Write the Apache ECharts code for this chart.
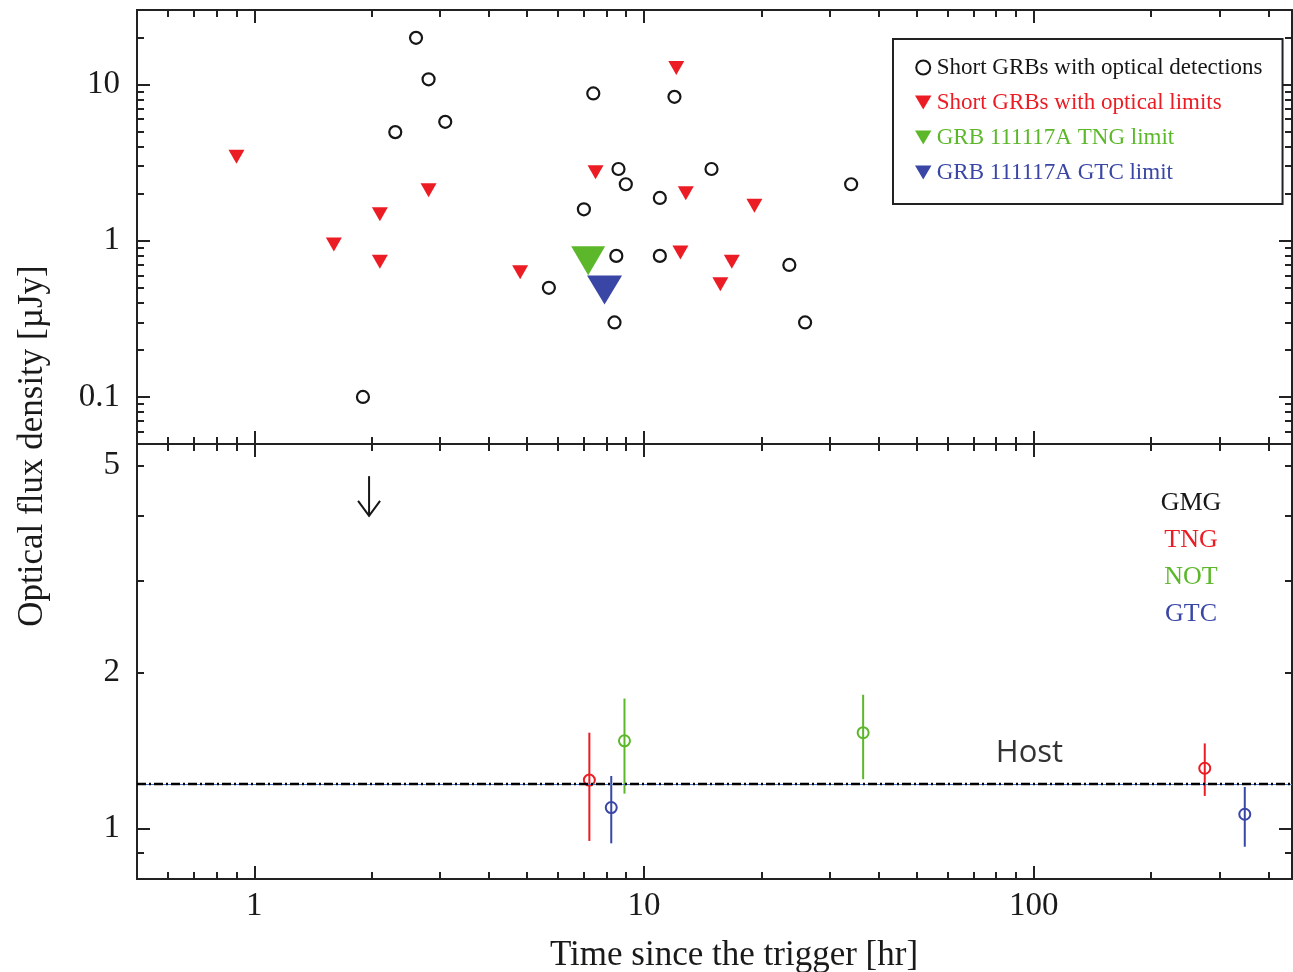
<!DOCTYPE html>
<html>
<head>
<meta charset="utf-8">
<script src="https://cdn.jsdelivr.net/npm/echarts@6/dist/echarts.min.js"></script>
<style>
  html, body { margin: 0; padding: 0; background: #ffffff; }
  #chart { width: 1293px; height: 972px; }
</style>
</head>
<body>
<div id="chart"></div>
<script>
// ---- Short GRB optical afterglows: time since trigger [hr], flux density [µJy] ----
const detTime = [2.60, 2.80, 3.09, 2.30, 1.90, 7.41, 11.97, 8.60, 8.98, 14.9, 34.0, 10.98, 7.01, 8.49, 10.98, 23.6, 5.70, 8.40, 25.9];
const detFlux = [19.9, 10.8, 5.77, 4.96, 0.10, 8.77, 8.34, 2.88, 2.30, 2.88, 2.30, 1.88, 1.59, 0.80, 0.80, 0.70, 0.50, 0.30, 0.30];

const limTime = [0.90, 2.80, 2.10, 1.60, 2.10, 4.81, 12.1, 7.51, 12.8, 19.2, 12.4, 16.8, 15.7];
const limFlux = [3.57, 2.18, 1.53, 0.98, 0.76, 0.65, 13.2, 2.84, 2.08, 1.73, 0.87, 0.76, 0.545];

// GRB 111117A upper limits [time, flux]
const tngLimit = [7.19, 0.80];
const gtcLimit = [7.92, 0.52];

// ---- GRB 111117A host photometry: [time, flux, lower, upper] ----
const tngHost = [[7.24, 1.24, 0.947, 1.53], [274.7, 1.307, 1.156, 1.459]];
const notHost = [[8.91, 1.476, 1.168, 1.78], [36.5, 1.53, 1.245, 1.81]];
const gtcHost = [[8.24, 1.098, 0.937, 1.263], [348, 1.066, 0.923, 1.203]];
// GMG upper limit: [time, flux, arrow tip]
const gmgLimit = [[1.97, 4.77, 4.0]];
const hostLevel = 1.22;
const hostLabelPos = [97.5, 1.40];

// ---- axis ticks ----
const xMajor = [1, 10, 100];
const xMinor = [0.6, 0.7, 0.8, 0.9, 2, 3, 4, 5, 6, 7, 8, 9, 20, 30, 40, 50, 60, 70, 80, 90, 200, 300, 400];
const xLabels = [1, 10, 100];
const topMajor = [0.1, 1, 10];
const topMinor = [0.06, 0.07, 0.08, 0.09, 0.2, 0.3, 0.4, 0.5, 0.6, 0.7, 0.8, 0.9, 2, 3, 4, 5, 6, 7, 8, 9, 20, 30];
const topLabels = [0.1, 1, 10];
const botMajor = [1];
const botMinor = [0.9, 2, 3, 4, 5];
const botLabels = [1, 2, 5];

const telescopes = ['GMG', 'TNG', 'NOT', 'GTC'];

const RED = '#ec1c24', GREEN = '#5cb82a', BLUE = '#3946a6', INK = '#161616';
const SERIF = '"Liberation Serif", "Times New Roman", serif';
const downTri = 'path://M0,0L20,0L10,17Z';

const X_RANGE = [0.5, 460];
const TOP_RANGE = [0.05, 30];
const BOT_RANGE = [0.8, 5.5];

function tickAxis(kind, grid, pos, range, ticks, len, labels) {
  const ax = {
    type: 'log', logBase: 10, gridIndex: grid, position: pos,
    min: range[0], max: range[1],
    axisLine: { show: false },
    splitLine: { show: false },
    axisTick: { show: true, inside: true, length: len, customValues: ticks,
                lineStyle: { color: '#222', width: 2 } },
    axisLabel: { show: false }
  };
  if (labels) {
    ax.axisLabel = {
      show: true, customValues: labels, formatter: v => String(+v.toPrecision(6)),
      fontFamily: SERIF, fontSize: 33, color: '#1a1a1a',
      margin: kind === 'x' ? 11 : 17
    };
  }
  return ax;
}

const xAxes = [];
const yAxes = [];
[0, 1].forEach(g => {
  xAxes.push(tickAxis('x', g, 'bottom', X_RANGE, xMajor, 13, g === 1 ? xLabels : null));
  xAxes.push(tickAxis('x', g, 'bottom', X_RANGE, xMinor, 7));
  xAxes.push(tickAxis('x', g, 'top', X_RANGE, xMajor, 13));
  xAxes.push(tickAxis('x', g, 'top', X_RANGE, xMinor, 7));
  const r = g === 0 ? TOP_RANGE : BOT_RANGE;
  const maj = g === 0 ? topMajor : botMajor;
  const min = g === 0 ? topMinor : botMinor;
  const lab = g === 0 ? topLabels : botLabels;
  yAxes.push(tickAxis('y', g, 'left', r, maj, 13, lab));
  yAxes.push(tickAxis('y', g, 'left', r, min, 7));
  yAxes.push(tickAxis('y', g, 'right', r, maj, 13));
  yAxes.push(tickAxis('y', g, 'right', r, min, 7));
});

const zip = (a, b) => a.map((v, i) => [v, b[i]]);

function hostSeries(name, color, data) {
  return {
    type: 'custom', name, xAxisIndex: 4, yAxisIndex: 4, data,
    encode: { x: 0, y: [1, 2, 3] },
    renderItem(params, api) {
      const x = api.value(0);
      const c = api.coord([x, api.value(1)]);
      const lo = api.coord([x, api.value(2)]);
      const hi = api.coord([x, api.value(3)]);
      return {
        type: 'group',
        children: [
          { type: 'line', shape: { x1: lo[0], y1: lo[1], x2: hi[0], y2: hi[1] },
            style: { stroke: color, lineWidth: 2 } },
          { type: 'circle', shape: { cx: c[0], cy: c[1], r: 5.5 },
            style: { stroke: color, fill: null, lineWidth: 2 } }
        ]
      };
    }
  };
}

const option = {
  backgroundColor: '#ffffff',
  animation: false,
  grid: [
    { left: 137, top: 10, width: 1155, height: 434, show: true, borderWidth: 2,
      borderColor: '#222', backgroundColor: 'transparent', outerBoundsMode: 'none' },
    { left: 137, top: 444, width: 1155, height: 435, show: true, borderWidth: 2,
      borderColor: '#222', backgroundColor: 'transparent', outerBoundsMode: 'none' }
  ],
  xAxis: xAxes,
  yAxis: yAxes,
  legend: {
    orient: 'vertical', left: 893, top: 39,
    padding: [17, 20, 20, 22], itemGap: 12, itemWidth: 17, itemHeight: 14,
    borderColor: '#222', borderWidth: 2, backgroundColor: '#fff',
    textStyle: { fontFamily: SERIF, fontSize: 23 },
    selectedMode: false,
    data: [
      { name: 'Short GRBs with optical detections', icon: 'circle', textStyle: { color: INK } },
      { name: 'Short GRBs with optical limits', icon: downTri, textStyle: { color: RED } },
      { name: 'GRB 111117A TNG limit', icon: downTri, textStyle: { color: GREEN } },
      { name: 'GRB 111117A GTC limit', icon: downTri, textStyle: { color: BLUE } }
    ]
  },
  series: [
    {
      type: 'scatter', name: 'Short GRBs with optical detections', xAxisIndex: 0, yAxisIndex: 0,
      data: zip(detTime, detFlux), symbol: 'circle', symbolSize: 12,
      itemStyle: { color: 'rgba(0,0,0,0)', borderColor: INK, borderWidth: 2.2, opacity: 1 }
    },
    {
      type: 'scatter', name: 'Short GRBs with optical limits', xAxisIndex: 0, yAxisIndex: 0,
      data: zip(limTime, limFlux), symbol: downTri, symbolSize: [16, 14], symbolOffset: [0, 2.3],
      itemStyle: { color: RED, opacity: 1 }
    },
    {
      type: 'scatter', name: 'GRB 111117A TNG limit', xAxisIndex: 0, yAxisIndex: 0,
      data: [tngLimit], symbol: downTri, symbolSize: [34, 29], symbolOffset: [0, 4.8],
      itemStyle: { color: GREEN, opacity: 1 }
    },
    {
      type: 'scatter', name: 'GRB 111117A GTC limit', xAxisIndex: 0, yAxisIndex: 0,
      data: [gtcLimit], symbol: downTri, symbolSize: [35, 29], symbolOffset: [0, 4.8],
      itemStyle: { color: BLUE, opacity: 1 }
    },
    {
      type: 'scatter', name: 'Host', xAxisIndex: 4, yAxisIndex: 4,
      data: [hostLabelPos], symbolSize: 0,
      label: { show: true, position: 'inside', formatter: 'Host',
               fontFamily: '"Open Sans", "Liberation Sans", sans-serif', fontSize: 31, color: '#000' },
      markLine: {
        silent: true, symbol: ['none', 'none'], label: { show: false },
        data: [
          { yAxis: hostLevel, lineStyle: { color: '#4a78c8', width: 1, type: 'solid', opacity: 1 } },
          { yAxis: hostLevel, lineStyle: { color: '#000', width: 2.4, type: [9, 3, 2, 3], opacity: 1 } }
        ]
      }
    },
    hostSeries('TNG', RED, tngHost),
    hostSeries('NOT', GREEN, notHost),
    hostSeries('GTC', BLUE, gtcHost),
    {
      type: 'custom', name: 'GMG', xAxisIndex: 4, yAxisIndex: 4, data: gmgLimit,
      encode: { x: 0, y: [1, 2] },
      renderItem(params, api) {
        const x = api.value(0);
        const a = api.coord([x, api.value(1)]);
        const b = api.coord([x, api.value(2)]);
        const s = { stroke: INK, lineWidth: 2, fill: null };
        return {
          type: 'group',
          children: [
            { type: 'line', shape: { x1: a[0], y1: a[1], x2: b[0], y2: b[1] }, style: s },
            { type: 'polyline', shape: { points: [[b[0] - 11, b[1] - 15], [b[0], b[1]], [b[0] + 11, b[1] - 15]] }, style: s }
          ]
        };
      }
    }
  ],
  graphic: [
    { type: 'text', x: 33, y: 446, rotation: Math.PI / 2,
      style: { text: 'Optical flux density [µJy]', fontFamily: SERIF, fontSize: 35, fill: '#1a1a1a',
               align: 'center', verticalAlign: 'middle' } },
    { type: 'text', x: 734, y: 956,
      style: { text: 'Time since the trigger [hr]', fontFamily: SERIF, fontSize: 35, fill: '#1a1a1a',
               align: 'center', verticalAlign: 'middle' } }
  ].concat(telescopes.map((t, i) => ({
    type: 'text', x: 1191, y: 503 + i * 37,
    style: { text: t, fontFamily: SERIF, fontSize: 26, fill: [INK, RED, GREEN, BLUE][i],
             align: 'center', verticalAlign: 'middle' }
  })))
};

const chart = echarts.init(document.getElementById('chart'), null, { renderer: 'canvas' });
chart.setOption(option);
</script>
</body>
</html>
